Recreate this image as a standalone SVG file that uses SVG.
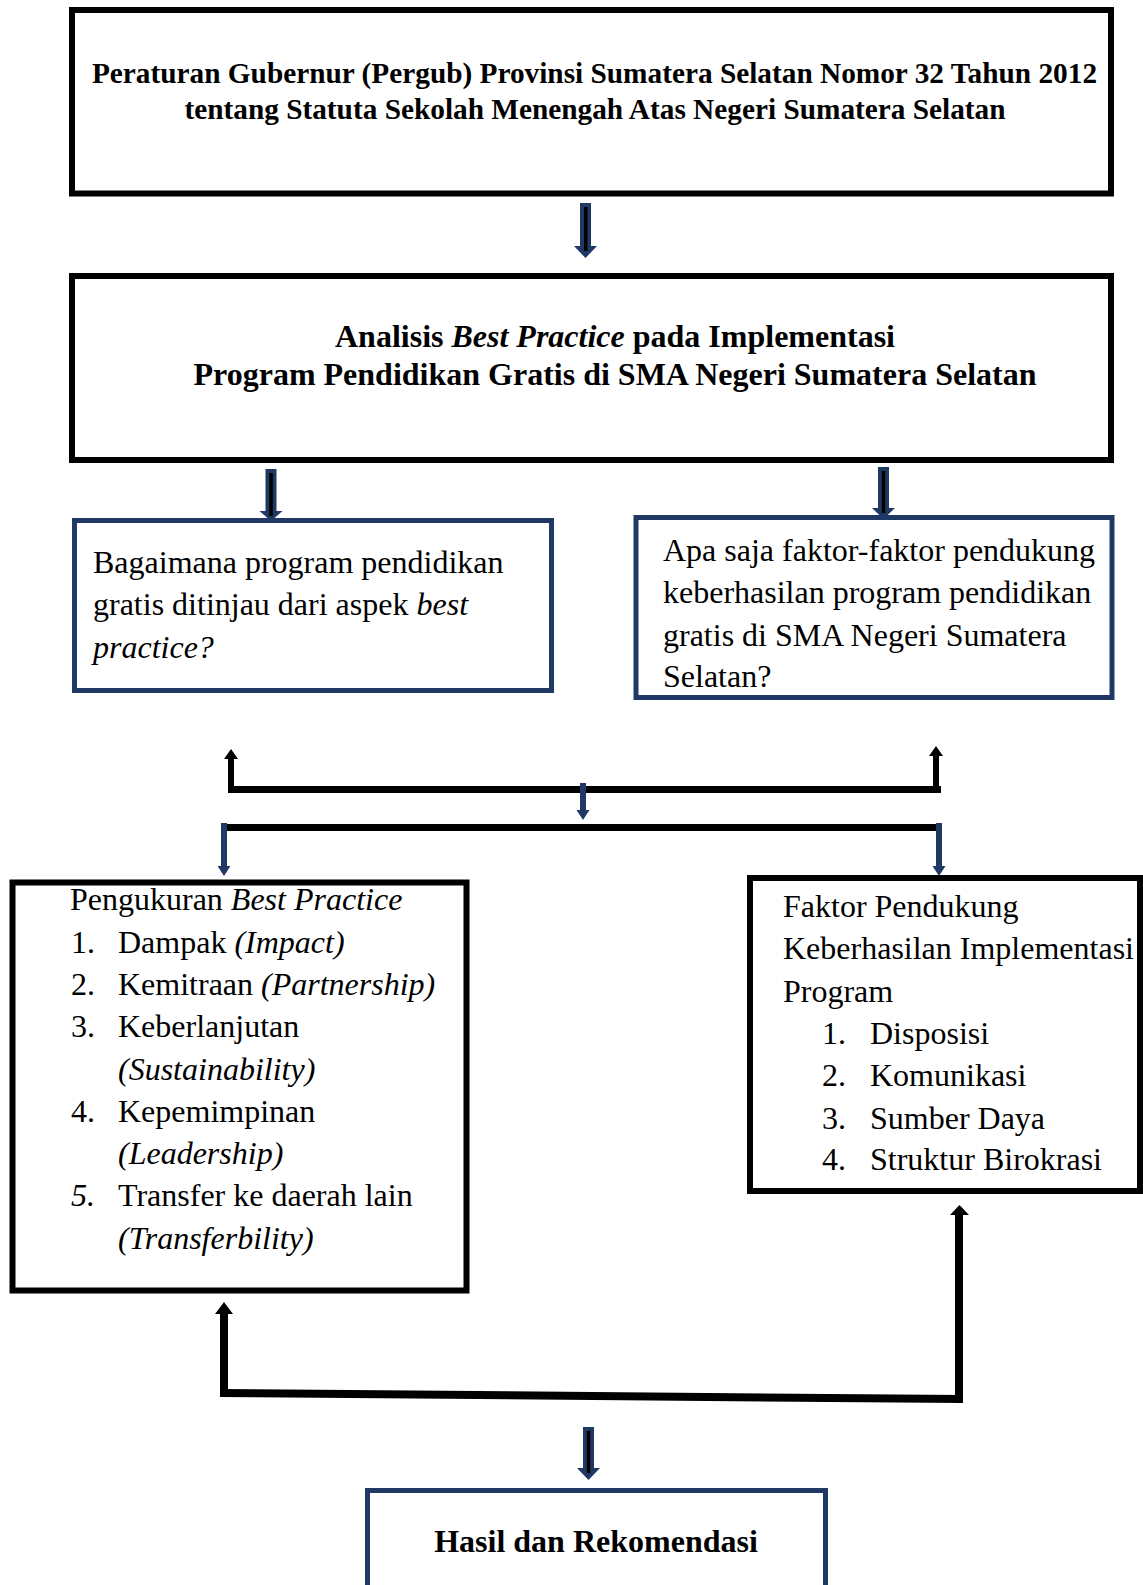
<svg xmlns="http://www.w3.org/2000/svg" width="1143" height="1585" viewBox="0 0 1143 1585">
<style>
.t{font-family:"Liberation Serif","Times New Roman",serif;fill:#000}
.b{font-weight:bold}
.i{font-style:italic}
.box{fill:#fff;stroke:#000;stroke-width:6}
.nbox{fill:#fff;stroke:#1f3864;stroke-width:5}
.navy{fill:#1f3864}
.blk{fill:#000}
</style>
<rect width="1143" height="1585" fill="#fff"/>
<g id="connectors">
  <path class="navy" d="M580,203 L591,203 L591,246 L597,246 L585.5,258 L574,246 L580,246 Z"/>
  <rect class="blk" x="584" y="207" width="3.5" height="44"/>
  <path class="navy" d="M265.5,469 L276.5,469 L276.5,511 L282.5,511 L271,521 L259.5,511 L265.5,511 Z"/>
  <rect class="blk" x="269.3" y="473" width="3.5" height="43"/>
  <path class="navy" d="M878,467 L889,467 L889,508 L895,508 L883.5,519 L872,508 L878,508 Z"/>
  <rect class="blk" x="881.8" y="471" width="3.5" height="42"/>
  <rect class="blk" x="228" y="786" width="713" height="7"/>
  <path class="blk" d="M228,793 L228,759 L224,759 L231,749 L238,759 L234,759 L234,793 Z"/>
  <path class="blk" d="M933,793 L933,756 L929,756 L936,746 L943,756 L939,756 L939,793 Z"/>
  <path class="navy" d="M580,783 L586,783 L586,810 L589.5,810 L583,820 L576.5,810 L580,810 Z"/>
  <rect class="blk" x="222" y="824" width="717" height="7"/>
  <path class="navy" d="M221,823 L227,823 L227,866 L230.5,866 L224,876 L217.5,866 L221,866 Z"/>
  <path class="navy" d="M936,823 L942,823 L942,866 L945.5,866 L939,876 L932.5,866 L936,866 Z"/>
  <path class="blk" d="M220,1397 L220,1314 L215,1314 L224,1302 L233,1314 L228,1314 L228,1397 Z"/>
  <line x1="220" y1="1393" x2="963" y2="1399" stroke="#000" stroke-width="8"/>
  <path class="blk" d="M955,1403 L955,1215 L950,1215 L959.5,1205 L969,1215 L963,1215 L963,1403 Z"/>
  <path class="navy" d="M583,1427 L594,1427 L594,1468 L600,1468 L588.5,1480 L577,1468 L583,1468 Z"/>
  <rect class="blk" x="586.8" y="1431" width="3.5" height="42"/>
</g>
<g id="node-pergub">
  <rect class="box" x="72" y="10" width="1039" height="183.5"/>
  <text class="t b" x="594.5" y="83" font-size="29.3" text-anchor="middle">Peraturan Gubernur (Pergub) Provinsi Sumatera Selatan Nomor 32 Tahun 2012</text>
  <text class="t b" x="595" y="119" font-size="29.3" text-anchor="middle">tentang Statuta Sekolah Menengah Atas Negeri Sumatera Selatan</text>
</g>
<g id="node-analisis">
  <rect class="box" x="72" y="276" width="1039" height="184"/>
  <text class="t b" x="615" y="347" font-size="32" text-anchor="middle">Analisis <tspan class="i">Best Practice</tspan> pada Implementasi</text>
  <text class="t b" x="615" y="385" font-size="32" text-anchor="middle">Program Pendidikan Gratis di SMA Negeri Sumatera Selatan</text>
</g>
<g id="node-q1">
  <rect class="nbox" x="74.5" y="520.5" width="477" height="170"/>
  <text class="t" x="93" y="573" font-size="32">Bagaimana program pendidikan</text>
  <text class="t" x="93" y="615" font-size="32">gratis ditinjau dari aspek <tspan class="i">best</tspan></text>
  <text class="t i" x="93" y="658" font-size="32">practice?</text>
</g>
<g id="node-q2">
  <rect class="nbox" x="636" y="517.5" width="476" height="180"/>
  <text class="t" x="663" y="561" font-size="32">Apa saja faktor-faktor pendukung</text>
  <text class="t" x="663" y="603" font-size="32">keberhasilan program pendidikan</text>
  <text class="t" x="663" y="646" font-size="32">gratis di SMA Negeri Sumatera</text>
  <text class="t" x="663" y="687" font-size="32">Selatan?</text>
</g>
<g id="node-pengukuran">
  <rect class="box" x="12.5" y="882.5" width="454" height="408"/>
  <text class="t" x="70" y="909.5" font-size="32">Pengukuran <tspan class="i">Best Practice</tspan></text>
  <text class="t" x="71" y="953" font-size="32">1.</text>
  <text class="t" x="118" y="953" font-size="32">Dampak <tspan class="i">(Impact)</tspan></text>
  <text class="t" x="71" y="995.4" font-size="32">2.</text>
  <text class="t" x="118" y="995.4" font-size="32">Kemitraan <tspan class="i">(Partnership)</tspan></text>
  <text class="t" x="71" y="1037" font-size="32">3.</text>
  <text class="t" x="118" y="1037" font-size="32">Keberlanjutan</text>
  <text class="t i" x="118" y="1080.3" font-size="32">(Sustainability)</text>
  <text class="t" x="71" y="1121.8" font-size="32">4.</text>
  <text class="t" x="118" y="1121.8" font-size="32">Kepemimpinan</text>
  <text class="t i" x="118" y="1164.2" font-size="32">(Leadership)</text>
  <text class="t i" x="71" y="1205.7" font-size="32">5.</text>
  <text class="t" x="118" y="1205.7" font-size="32">Transfer ke daerah lain</text>
  <text class="t i" x="118" y="1249" font-size="32">(Transferbility)</text>
</g>
<g id="node-faktor">
  <rect class="box" x="750" y="878" width="390" height="313"/>
  <text class="t" x="783" y="917" font-size="32">Faktor Pendukung</text>
  <text class="t" x="783" y="959" font-size="32">Keberhasilan Implementasi</text>
  <text class="t" x="783" y="1002" font-size="32">Program</text>
  <text class="t" x="822" y="1044" font-size="32">1.</text>
  <text class="t" x="870" y="1044" font-size="32">Disposisi</text>
  <text class="t" x="822" y="1086" font-size="32">2.</text>
  <text class="t" x="870" y="1086" font-size="32">Komunikasi</text>
  <text class="t" x="822" y="1129" font-size="32">3.</text>
  <text class="t" x="870" y="1129" font-size="32">Sumber Daya</text>
  <text class="t" x="822" y="1170" font-size="32">4.</text>
  <text class="t" x="870" y="1170" font-size="32">Struktur Birokrasi</text>
</g>
<g id="node-hasil">
  <rect class="nbox" x="367.5" y="1490.5" width="458" height="120"/>
  <text class="t b" x="596" y="1552" font-size="32" text-anchor="middle">Hasil dan Rekomendasi</text>
</g>
</svg>
